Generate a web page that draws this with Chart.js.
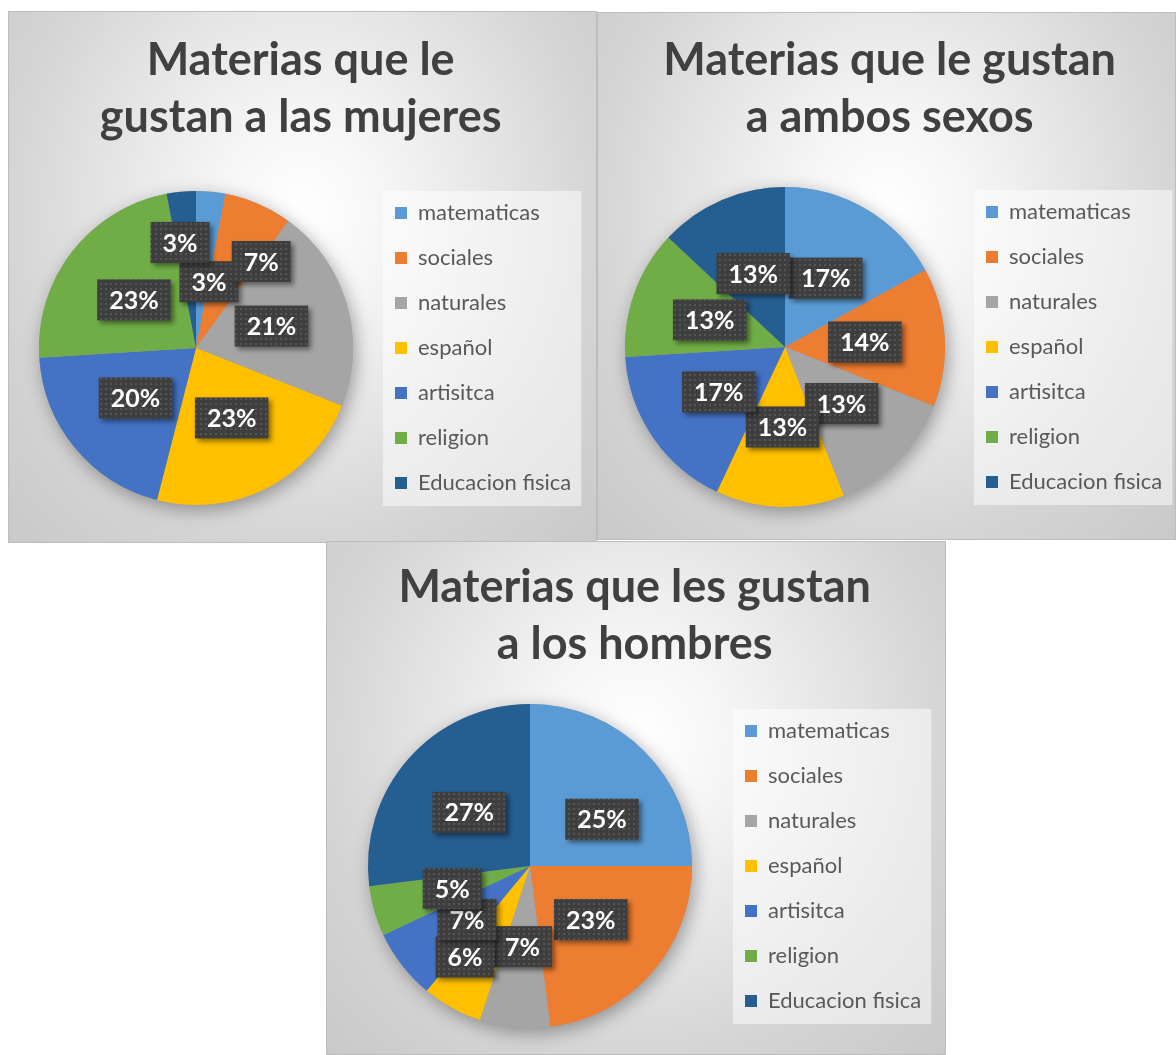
<!DOCTYPE html>
<html lang="es">
<head>
<meta charset="utf-8">
<title>Materias que les gustan</title>
<script src="https://cdn.jsdelivr.net/npm/chart.js@4.4.1/dist/chart.umd.min.js"></script>
<style>
  body { margin: 0; background: #fff; }
  #page { position: relative; width: 1176px; height: 1055px; overflow: hidden; }
  .panel {
    position: absolute;
    box-shadow: inset 0 0 0 1px #bdbdbd;
    background: radial-gradient(ellipse at 50% 38%, #ffffff 0%, #f6f6f6 20%, #e4e4e4 48%, #d4d4d4 72%, #c9c9c9 100%);
  }
  .panel canvas { position: absolute; left: 0; top: 0; }
</style>
</head>
<body>
<div id="page">
  <div class="panel" style="left:8px;top:11px;width:589px;height:532px"><canvas id="chartMujeres" width="589" height="532"></canvas></div>
  <div class="panel" style="left:597px;top:12px;width:579px;height:528px"><canvas id="chartAmbos" width="579" height="528"></canvas></div>
  <div class="panel" style="left:326px;top:541px;width:620px;height:514px"><canvas id="chartHombres" width="620" height="514"></canvas></div>
</div>

<script>
// datos (porcentajes)
const materias = ["matematicas", "sociales", "naturales", "español", "artisitca", "religion", "Educacion fisica"];
const mujeresPct = [3, 7, 21, 23, 20, 23, 3];
const ambosPct = [17, 14, 13, 13, 17, 13, 13];
const hombresPct = [25, 23, 7, 6, 7, 5, 27];

const tituloMujeres = ["Materias que le", "gustan a las mujeres"];
const tituloAmbos = ["Materias que le gustan", "a ambos sexos"];
const tituloHombres = ["Materias que les gustan", "a los hombres"];

const colores = ["#5B9BD5", "#ED7D31", "#A5A5A5", "#FFC000", "#4472C4", "#70AD47", "#255E91"];

const FONT = "Lato";
const LEGEND_SIZE = 22;
const LEGEND_PAD = 23;
const LEGEND_BOX = 12;

// patron de puntos de las etiquetas
function dotPattern(ctx) {
  const tile = document.createElement("canvas");
  tile.width = 5;
  tile.height = 5;
  const t = tile.getContext("2d");
  t.fillStyle = "#3e3e3e";
  t.fillRect(0, 0, 5, 5);
  t.fillStyle = "#555555";
  t.fillRect(2, 2, 2, 2);
  return ctx.createPattern(tile, "repeat");
}

// sombra suave debajo de la torta
const pieShadow = {
  id: "pieShadow",
  beforeDatasetsDraw(chart) {
    const arc = chart.getDatasetMeta(0).data[0];
    if (!arc) return;
    const { ctx } = chart;
    ctx.save();
    ctx.shadowColor = "rgba(0,0,0,0.35)";
    ctx.shadowBlur = 18;
    ctx.shadowOffsetX = 3;
    ctx.shadowOffsetY = 5;
    ctx.fillStyle = "#999";
    ctx.beginPath();
    ctx.arc(arc.x, arc.y, arc.outerRadius, 0, Math.PI * 2);
    ctx.fill();
    ctx.restore();
  }
};

// fondo claro detras de la leyenda
const legendPanel = {
  id: "legendPanel",
  beforeDraw(chart) {
    const lg = chart.legend;
    const boxes = lg && lg.legendHitBoxes;
    if (!boxes || !boxes.length) return;
    const first = boxes[0];
    const last = boxes[boxes.length - 1];
    const top = first.top + first.height / 2 - 22;
    const bottom = last.top + last.height / 2 + 23;
    const { ctx } = chart;
    ctx.save();
    ctx.fillStyle = "rgba(255,255,255,0.5)";
    ctx.fillRect(lg.left + 11, top, lg.right - lg.left - 11, bottom - top);
    ctx.restore();
  }
};

// etiquetas de porcentaje en cajas oscuras
const sliceLabels = {
  id: "sliceLabels",
  afterDatasetsDraw(chart, args, opts) {
    const { ctx } = chart;
    const meta = chart.getDatasetMeta(0);
    const values = chart.data.datasets[0].data;
    const total = values.reduce((a, b) => a + b, 0);
    const pattern = dotPattern(ctx);
    ctx.save();
    ctx.font = `bold ${opts.size}px ${FONT}`;
    ctx.textAlign = "center";
    ctx.textBaseline = "middle";
    meta.data.forEach((arc, i) => {
      const p = arc.getProps(["x", "y", "startAngle", "endAngle", "outerRadius"], true);
      const n = (opts.nudge || {})[i] || {};
      const ang = (p.startAngle + p.endAngle) / 2 + (n.a || 0) * Math.PI / 180;
      const dist = p.outerRadius * (n.r || opts.radius);
      const cx = p.x + Math.cos(ang) * dist;
      const cy = p.y + Math.sin(ang) * dist;
      const text = Math.round(values[i] / total * 100) + "%";
      const w = ctx.measureText(text).width + opts.padX * 2;
      const h = opts.boxHeight;
      ctx.shadowColor = "rgba(0,0,0,0.45)";
      ctx.shadowBlur = 5;
      ctx.shadowOffsetX = 3;
      ctx.shadowOffsetY = 3;
      ctx.fillStyle = pattern;
      ctx.fillRect(cx - w / 2, cy - h / 2, w, h);
      ctx.shadowColor = "transparent";
      ctx.fillStyle = "#ffffff";
      ctx.fillText(text, cx, cy + 1);
    });
    ctx.restore();
  }
};

function legendWidth() {
  const m = document.createElement("canvas").getContext("2d");
  m.font = `${LEGEND_SIZE}px ${FONT}`;
  const widest = Math.max(...materias.map(t => m.measureText(t).width));
  return LEGEND_PAD + LEGEND_BOX + LEGEND_SIZE / 2 + widest + 10;
}

function crearTorta(id, titulo, valores, ajuste) {
  const canvas = document.getElementById(id);
  const padR = canvas.width - ajuste.legendLeft - legendWidth();
  return new Chart(canvas, {
    type: "pie",
    data: {
      labels: materias,
      datasets: [{
        data: valores,
        backgroundColor: colores,
        borderWidth: 0,
        radius: ajuste.radius
      }]
    },
    options: {
      responsive: false,
      animation: false,
      devicePixelRatio: 1,
      layout: {
        padding: { left: ajuste.padL, right: padR, top: 0, bottom: ajuste.padB }
      },
      plugins: {
        title: {
          display: true,
          text: titulo,
          color: "#404040",
          font: { family: FONT, size: 45, weight: "bold", lineHeight: "57px" },
          padding: { top: ajuste.titleTop, bottom: ajuste.titleBottom }
        },
        legend: {
          position: "right",
          fullSize: false,
          labels: {
            color: "#595959",
            font: { family: FONT, size: LEGEND_SIZE },
            boxWidth: LEGEND_BOX,
            boxHeight: LEGEND_BOX,
            padding: LEGEND_PAD
          }
        },
        tooltip: { enabled: false },
        sliceLabels: {
          size: 25,
          padX: 12,
          boxHeight: 41,
          radius: 0.5,
          nudge: ajuste.nudge
        }
      }
    },
    plugins: [legendPanel, pieShadow, sliceLabels]
  });
}

crearTorta("chartMujeres", tituloMujeres, mujeresPct, {
  radius: 157, padL: 12, legendLeft: 364, padB: 8, titleTop: 21, titleBottom: 15,
  nudge: { 0: { r: 0.43, a: 5.6 }, 1: { r: 0.69, a: 13.6 }, 6: { r: 0.68, a: -3.2 } }
});

crearTorta("chartAmbos", tituloAmbos, ambosPct, {
  radius: 160, padL: 10, legendLeft: 366, padB: 8, titleTop: 20, titleBottom: 16
});

crearTorta("chartHombres", tituloHombres, hombresPct, {
  radius: 162, padL: 12, legendLeft: 396, padB: 14, titleTop: 18, titleBottom: 18,
  nudge: { 0: { r: 0.53, a: 12 }, 3: { r: 0.69, a: 6.7 }, 4: { r: 0.51, a: -2.5 } }
});
</script>
</body>
</html>
